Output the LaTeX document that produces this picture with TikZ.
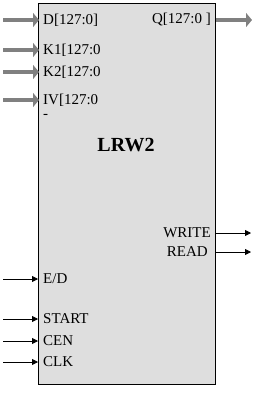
\documentclass[tikz,border=0pt]{standalone}
\usepackage{fontspec}
\setmainfont{Liberation Serif}
\usetikzlibrary{arrows.meta, positioning}

\begin{document}
\begin{tikzpicture}[
  x=1pt, y=-1pt,
  font=\fontsize{15}{17}\selectfont,
  block/.style={draw, fill=black!13, line width=0.8pt, minimum width=177pt, minimum height=381pt, anchor=north west, inner sep=0pt},
  pin/.style={inner sep=0pt, anchor=west},
  pout/.style={inner sep=0pt, anchor=east},
  bus/.style={draw=black!50, line width=3.5pt, -{Triangle[length=6pt, width=14pt]}, shorten >=-1pt},
  wire/.style={-{Triangle[length=6pt, width=6pt]}, line width=0.8pt},
]
\useasboundingbox (0,0) rectangle (269,397);
\node[block] (lrw) at (38,3) {};
\node[font=\fontsize{20}{22}\selectfont\bfseries] (title) at (126,145) {LRW2};
% bus ports
\node[pin] (d) at (43,20) {D[127:0]};
\node[pin] (k1) at (43,50) {K1[127:0};
\node[pin] (k2) at (43,72) {K2[127:0};
\node[pin] (iv) at (43,100) {IV[127:0};
\node[pin, below=8pt of iv.south west, anchor=north west] (ivcut) {-};
\node[pout] (q) at (211,20) {Q[127:0 ]};
% control ports
\node[pout] (wr) at (211,233) {WRITE};
\node[pout] (rd) at (208,252) {READ};
\node[pin] (ed) at (43,279) {E/D};
\node[pin] (start) at (43,319) {START};
\node[pin] (cen) at (43,341) {CEN};
\node[pin] (clk) at (43,362) {CLK};
% connectors
\coordinate (din) at (3,20);
\coordinate (k1in) at (3,50);
\coordinate (k2in) at (3,72);
\coordinate (ivin) at (3,100);
\coordinate (qout) at (251,20);
\coordinate (wrout) at (251,233);
\coordinate (rdout) at (251,252);
\coordinate (edin) at (3,279);
\coordinate (startin) at (3,319);
\coordinate (cenin) at (3,341);
\coordinate (clkin) at (3,362);
\draw[bus] (din) -- (din -| lrw.west);
\draw[bus] (k1in) -- (k1in -| lrw.west);
\draw[bus] (k2in) -- (k2in -| lrw.west);
\draw[bus] (ivin) -- (ivin -| lrw.west);
\draw[bus] (qout -| lrw.east) -- (qout);
\draw[wire] (wrout -| lrw.east) -- (wrout);
\draw[wire] (rdout -| lrw.east) -- (rdout);
\draw[wire] (edin) -- (edin -| lrw.west);
\draw[wire] (startin) -- (startin -| lrw.west);
\draw[wire] (cenin) -- (cenin -| lrw.west);
\draw[wire] (clkin) -- (clkin -| lrw.west);
\end{tikzpicture}
\end{document}
